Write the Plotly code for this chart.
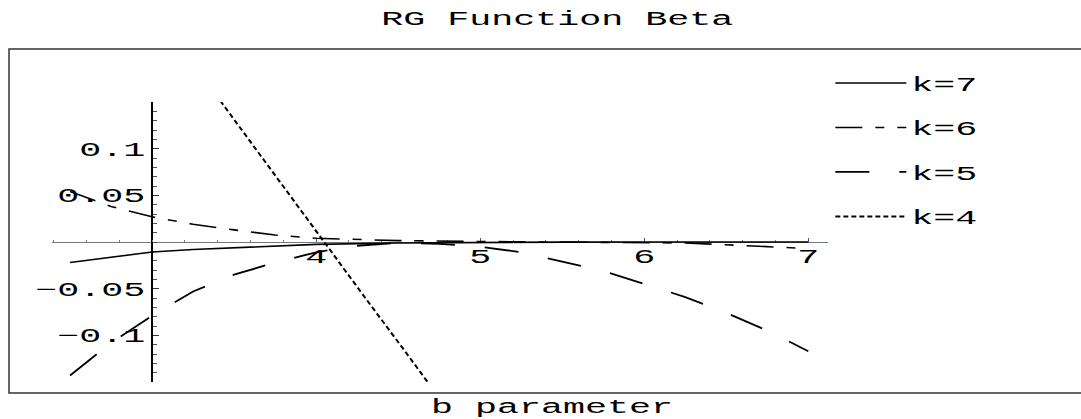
import plotly.graph_objects as go

# ---- data ----
x7 = [2.5, 2.75, 3.0, 3.25, 3.5, 3.75, 4.0, 4.5, 5.0, 5.5, 6.0, 6.5, 7.0]
y7 = [-0.022, -0.016, -0.0107, -0.008, -0.006, -0.004, -0.0025, -0.001, -0.0003, -0.0001, 0.0, 0.0, 0.0]

x6 = [2.5, 2.75, 3.0, 3.25, 3.5, 3.75, 4.0, 4.5, 5.0, 5.5, 6.0, 6.25, 6.5, 6.75, 7.0]
y6 = [0.054, 0.038, 0.027, 0.019, 0.013, 0.0075, 0.004, 0.0015, 0.0005, 0.0, -0.0005, -0.001, -0.003, -0.005, -0.007]

x5 = [2.5, 2.75, 3.0, 3.25, 3.5, 3.75, 4.0, 4.25, 4.5, 4.75, 5.0, 5.25, 5.5, 5.75, 6.0, 6.25, 6.5, 6.75, 7.0]
y5 = [-0.143, -0.108, -0.079, -0.053, -0.035, -0.022, -0.011, -0.004, -0.0008, -0.002, -0.005, -0.011,
      -0.021, -0.031, -0.045, -0.059, -0.076, -0.095, -0.117]

x4 = [3.3, 3.55, 3.8, 4.05, 4.3, 4.55, 4.8]
y4 = [0.179, 0.119, 0.060, 0.0, -0.060, -0.119, -0.179]

x_tickvals = [4, 5, 6, 7]
x_ticktext = ["4", "5", "6", "7"]
y_tickvals = [-0.1, -0.05, 0.05, 0.1]
y_ticktext = ["\u22120.1", "\u22120.05", "0.05", "0.1"]
x_minor = [2.4, 2.6, 2.8, 3.0, 3.2, 3.4, 3.6, 3.8, 4.0, 4.2, 4.4, 4.6, 4.8, 5.0, 5.2, 5.4, 5.6, 5.8,
           6.0, 6.2, 6.4, 6.6, 6.8, 7.0]
y_minor = [round(-0.15 + 0.01 * i, 2) for i in range(31)]

title_text = "RG Function Beta"
xlabel_text = "b parameter"

FONT = "Liberation Mono"
FS = 20
STRETCH = 22.0 / (0.6 * FS)   # the reference text is drawn horizontally stretched

X_RANGE = [2.39, 7.12]
Y_RANGE = [-0.15, 0.15]

fig = go.Figure()
fig.add_trace(go.Scatter(x=x7, y=y7, mode="lines", name="k=7", legendgroup="g7",
                         line=dict(color="black", width=1.6, dash="solid")))
fig.add_trace(go.Scatter(x=x6, y=y6, mode="lines", name="k=6", legendgroup="g6",
                         line=dict(color="black", width=1.6, dash="27px,13px,9px,13px")))
fig.add_trace(go.Scatter(x=x5, y=y5, mode="lines", name="k=5", legendgroup="g5",
                         line=dict(color="black", width=1.8, dash="34px,30px")))
fig.add_trace(go.Scatter(x=x4, y=y4, mode="lines", name="k=4", legendgroup="g4",
                         line=dict(color="black", width=2.0, dash="5px,3px")))

ypos = (3 - X_RANGE[0]) / (X_RANGE[1] - X_RANGE[0])

fig.update_layout(
    width=1081, height=419,
    margin=dict(l=52, r=253, t=102, b=37),
    paper_bgcolor="white", plot_bgcolor="white",
    font=dict(family=FONT, size=FS, color="black"),
    title=dict(text=title_text, xref="paper", x=0.651, yref="container", y=0.957,
               xanchor="center", yanchor="middle", font=dict(family=FONT, size=FS)),
    xaxis=dict(range=X_RANGE, anchor="free", position=0.5, showgrid=False, zeroline=False,
               showline=True, linecolor="#777", linewidth=1, layer="below traces",
               tickmode="array", tickvals=x_tickvals, ticktext=x_ticktext,
               ticks="inside", ticklen=4, tickcolor="#555", tickwidth=1,
               ticklabelstandoff=-4,
               minor=dict(tickmode="array", tickvals=x_minor, ticks="inside", ticklen=2,
                          tickcolor="#777", tickwidth=1),
               tickfont=dict(family=FONT, size=FS)),
    yaxis=dict(range=Y_RANGE, anchor="free", position=ypos, showgrid=False, zeroline=False,
               showline=True, linecolor="black", linewidth=1.5, layer="below traces",
               tickmode="array", tickvals=y_tickvals, ticktext=y_ticktext,
               ticks="inside", ticklen=6, tickcolor="#333", tickwidth=1,
               ticklabelstandoff=2,
               minor=dict(tickmode="array", tickvals=y_minor, ticks="inside", ticklen=4,
                          tickcolor="#555", tickwidth=1),
               tickfont=dict(family=FONT, size=FS)),
    legend=dict(x=1.003, xanchor="left", y=1.1377, yanchor="top", traceorder="grouped",
                tracegroupgap=15.5, itemwidth=71, entrywidth=180, bgcolor="rgba(0,0,0,0)",
                font=dict(family=FONT, size=FS)),
    showlegend=True,
)

# outer frame of the graphic
fig.add_shape(type="rect", xref="paper", yref="paper",
              x0=(9 - 52) / 776, x1=(1095 - 52) / 776,
              y0=(382 - 393) / 280, y1=(382 - 49) / 280,
              line=dict(color="#333", width=1.5), fillcolor="rgba(0,0,0,0)", layer="below")

fig.add_annotation(text=xlabel_text, xref="paper", yref="paper", x=0.6443, y=(382 - 407.5) / 280,
                   xanchor="center", yanchor="middle", showarrow=False,
                   font=dict(family=FONT, size=FS))

post = """
document.body.style.margin = '0';
document.body.style.padding = '0';
var gd = document.getElementById('{plot_id}');
var S = %f;
gd.querySelectorAll('text').forEach(function(t){
  var L = t.getComputedTextLength();
  if (L > 0) {
    t.setAttribute('textLength', (L * S).toFixed(2));
    t.setAttribute('lengthAdjust', 'spacingAndGlyphs');
  }
});
gd.querySelectorAll('.legend, .legend [clip-path]').forEach(function(e){ e.removeAttribute('clip-path'); });
""" % STRETCH
fig.write_html("out.html", post_script=post, config={"responsive": False, "displayModeBar": False})
